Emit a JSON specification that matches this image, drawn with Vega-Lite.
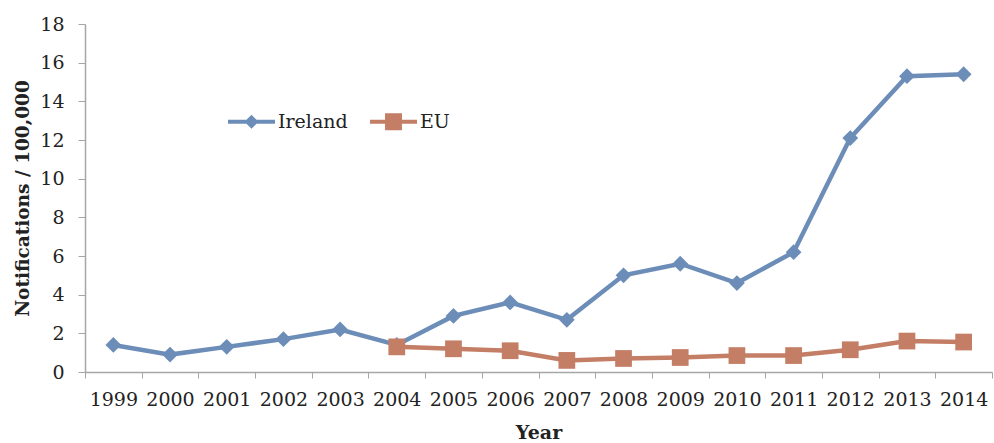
{
  "$schema": "https://vega.github.io/schema/vega-lite/v6.json",
  "width": 907,
  "height": 348,
  "autosize": {"type": "none"},
  "padding": {"left": 85, "top": 24, "right": 2, "bottom": 71},
  "background": "white",
  "config": {
    "view": {"stroke": null},
    "font": "DejaVu Serif"
  },
  "data": {
    "values": [
      {"year": "1999", "series": "Ireland", "value": 1.4},
      {"year": "2000", "series": "Ireland", "value": 0.9},
      {"year": "2001", "series": "Ireland", "value": 1.3},
      {"year": "2002", "series": "Ireland", "value": 1.7},
      {"year": "2003", "series": "Ireland", "value": 2.2},
      {"year": "2004", "series": "Ireland", "value": 1.4},
      {"year": "2005", "series": "Ireland", "value": 2.9},
      {"year": "2006", "series": "Ireland", "value": 3.6},
      {"year": "2007", "series": "Ireland", "value": 2.7},
      {"year": "2008", "series": "Ireland", "value": 5.0},
      {"year": "2009", "series": "Ireland", "value": 5.6},
      {"year": "2010", "series": "Ireland", "value": 4.6},
      {"year": "2011", "series": "Ireland", "value": 6.2},
      {"year": "2012", "series": "Ireland", "value": 12.1},
      {"year": "2013", "series": "Ireland", "value": 15.3},
      {"year": "2014", "series": "Ireland", "value": 15.4},
      {"year": "2004", "series": "EU", "value": 1.3},
      {"year": "2005", "series": "EU", "value": 1.2},
      {"year": "2006", "series": "EU", "value": 1.1},
      {"year": "2007", "series": "EU", "value": 0.6},
      {"year": "2008", "series": "EU", "value": 0.7},
      {"year": "2009", "series": "EU", "value": 0.75},
      {"year": "2010", "series": "EU", "value": 0.85},
      {"year": "2011", "series": "EU", "value": 0.85},
      {"year": "2012", "series": "EU", "value": 1.15},
      {"year": "2013", "series": "EU", "value": 1.6},
      {"year": "2014", "series": "EU", "value": 1.55}
    ]
  },
  "encoding": {
    "x": {
      "field": "year",
      "type": "ordinal",
      "sort": null,
      "scale": {"type": "band", "paddingInner": 0, "paddingOuter": 0},
      "axis": {
        "title": "Year",
        "titleFont": "DejaVu Serif",
        "titleFontWeight": "bold",
        "titleFontSize": 19,
        "titleColor": "#222222",
        "titlePadding": 14,
        "labelAngle": 0,
        "labelFont": "DejaVu Serif",
        "labelFontSize": 19,
        "labelColor": "#222222",
        "labelPadding": 12,
        "tickBand": "extent",
        "tickSize": 6,
        "tickColor": "#A6A6A6",
        "domainColor": "#A6A6A6",
        "domainWidth": 1.5,
        "grid": false
      }
    },
    "y": {
      "field": "value",
      "type": "quantitative",
      "scale": {"domain": [0, 18], "nice": false},
      "axis": {
        "title": "Notifications / 100,000",
        "titleFont": "DejaVu Serif",
        "titleFontWeight": "bold",
        "titleFontSize": 18.5,
        "titleColor": "#222222",
        "titlePadding": 7,
        "values": [0, 2, 4, 6, 8, 10, 12, 14, 16, 18],
        "labelFont": "DejaVu Serif",
        "labelFontSize": 19,
        "labelColor": "#222222",
        "labelPadding": 14,
        "tickSize": 7,
        "tickColor": "#A6A6A6",
        "domainColor": "#A6A6A6",
        "domainWidth": 1.5,
        "grid": false
      }
    },
    "color": {
      "field": "series",
      "type": "nominal",
      "sort": ["Ireland", "EU"],
      "scale": {"domain": ["Ireland", "EU"], "range": ["#6D8DB9", "#C47E66"]},
      "legend": {
        "title": null,
        "orient": "none",
        "legendX": 143,
        "legendY": 74,
        "direction": "horizontal",
        "columns": 2,
        "symbolSize": 2209,
        "labelFont": "DejaVu Serif",
        "labelFontSize": 19,
        "labelColor": "#222222",
        "labelOffset": 3,
        "columnPadding": 22,
        "encode": {
          "symbols": {
            "update": {
              "shape": {"signal": "datum.value === 'Ireland' ? 'M-1,-0.085L1,-0.085L1,0.085L-1,0.085ZM0,-0.3L0.3,0L0,0.3L-0.3,0Z' : 'M-1,-0.085L1,-0.085L1,0.085L-1,0.085ZM-0.36,-0.36L0.36,-0.36L0.36,0.36L-0.36,0.36Z'"},
              "size": {"value": 2209},
              "fill": {"scale": "color", "field": "value"},
              "stroke": {"value": "transparent"},
              "strokeWidth": {"value": 0},
              "opacity": {"value": 1}
            }
          }
        }
      }
    }
  },
  "layer": [
    {
      "mark": {"type": "line", "strokeWidth": 4.5}
    },
    {
      "transform": [{"filter": "datum.series === 'Ireland'"}],
      "mark": {"type": "point", "filled": true, "opacity": 1, "shape": "diamond", "size": 250}
    },
    {
      "transform": [{"filter": "datum.series === 'EU'"}],
      "mark": {"type": "point", "filled": true, "opacity": 1, "shape": "square", "size": 280}
    }
  ]
}
